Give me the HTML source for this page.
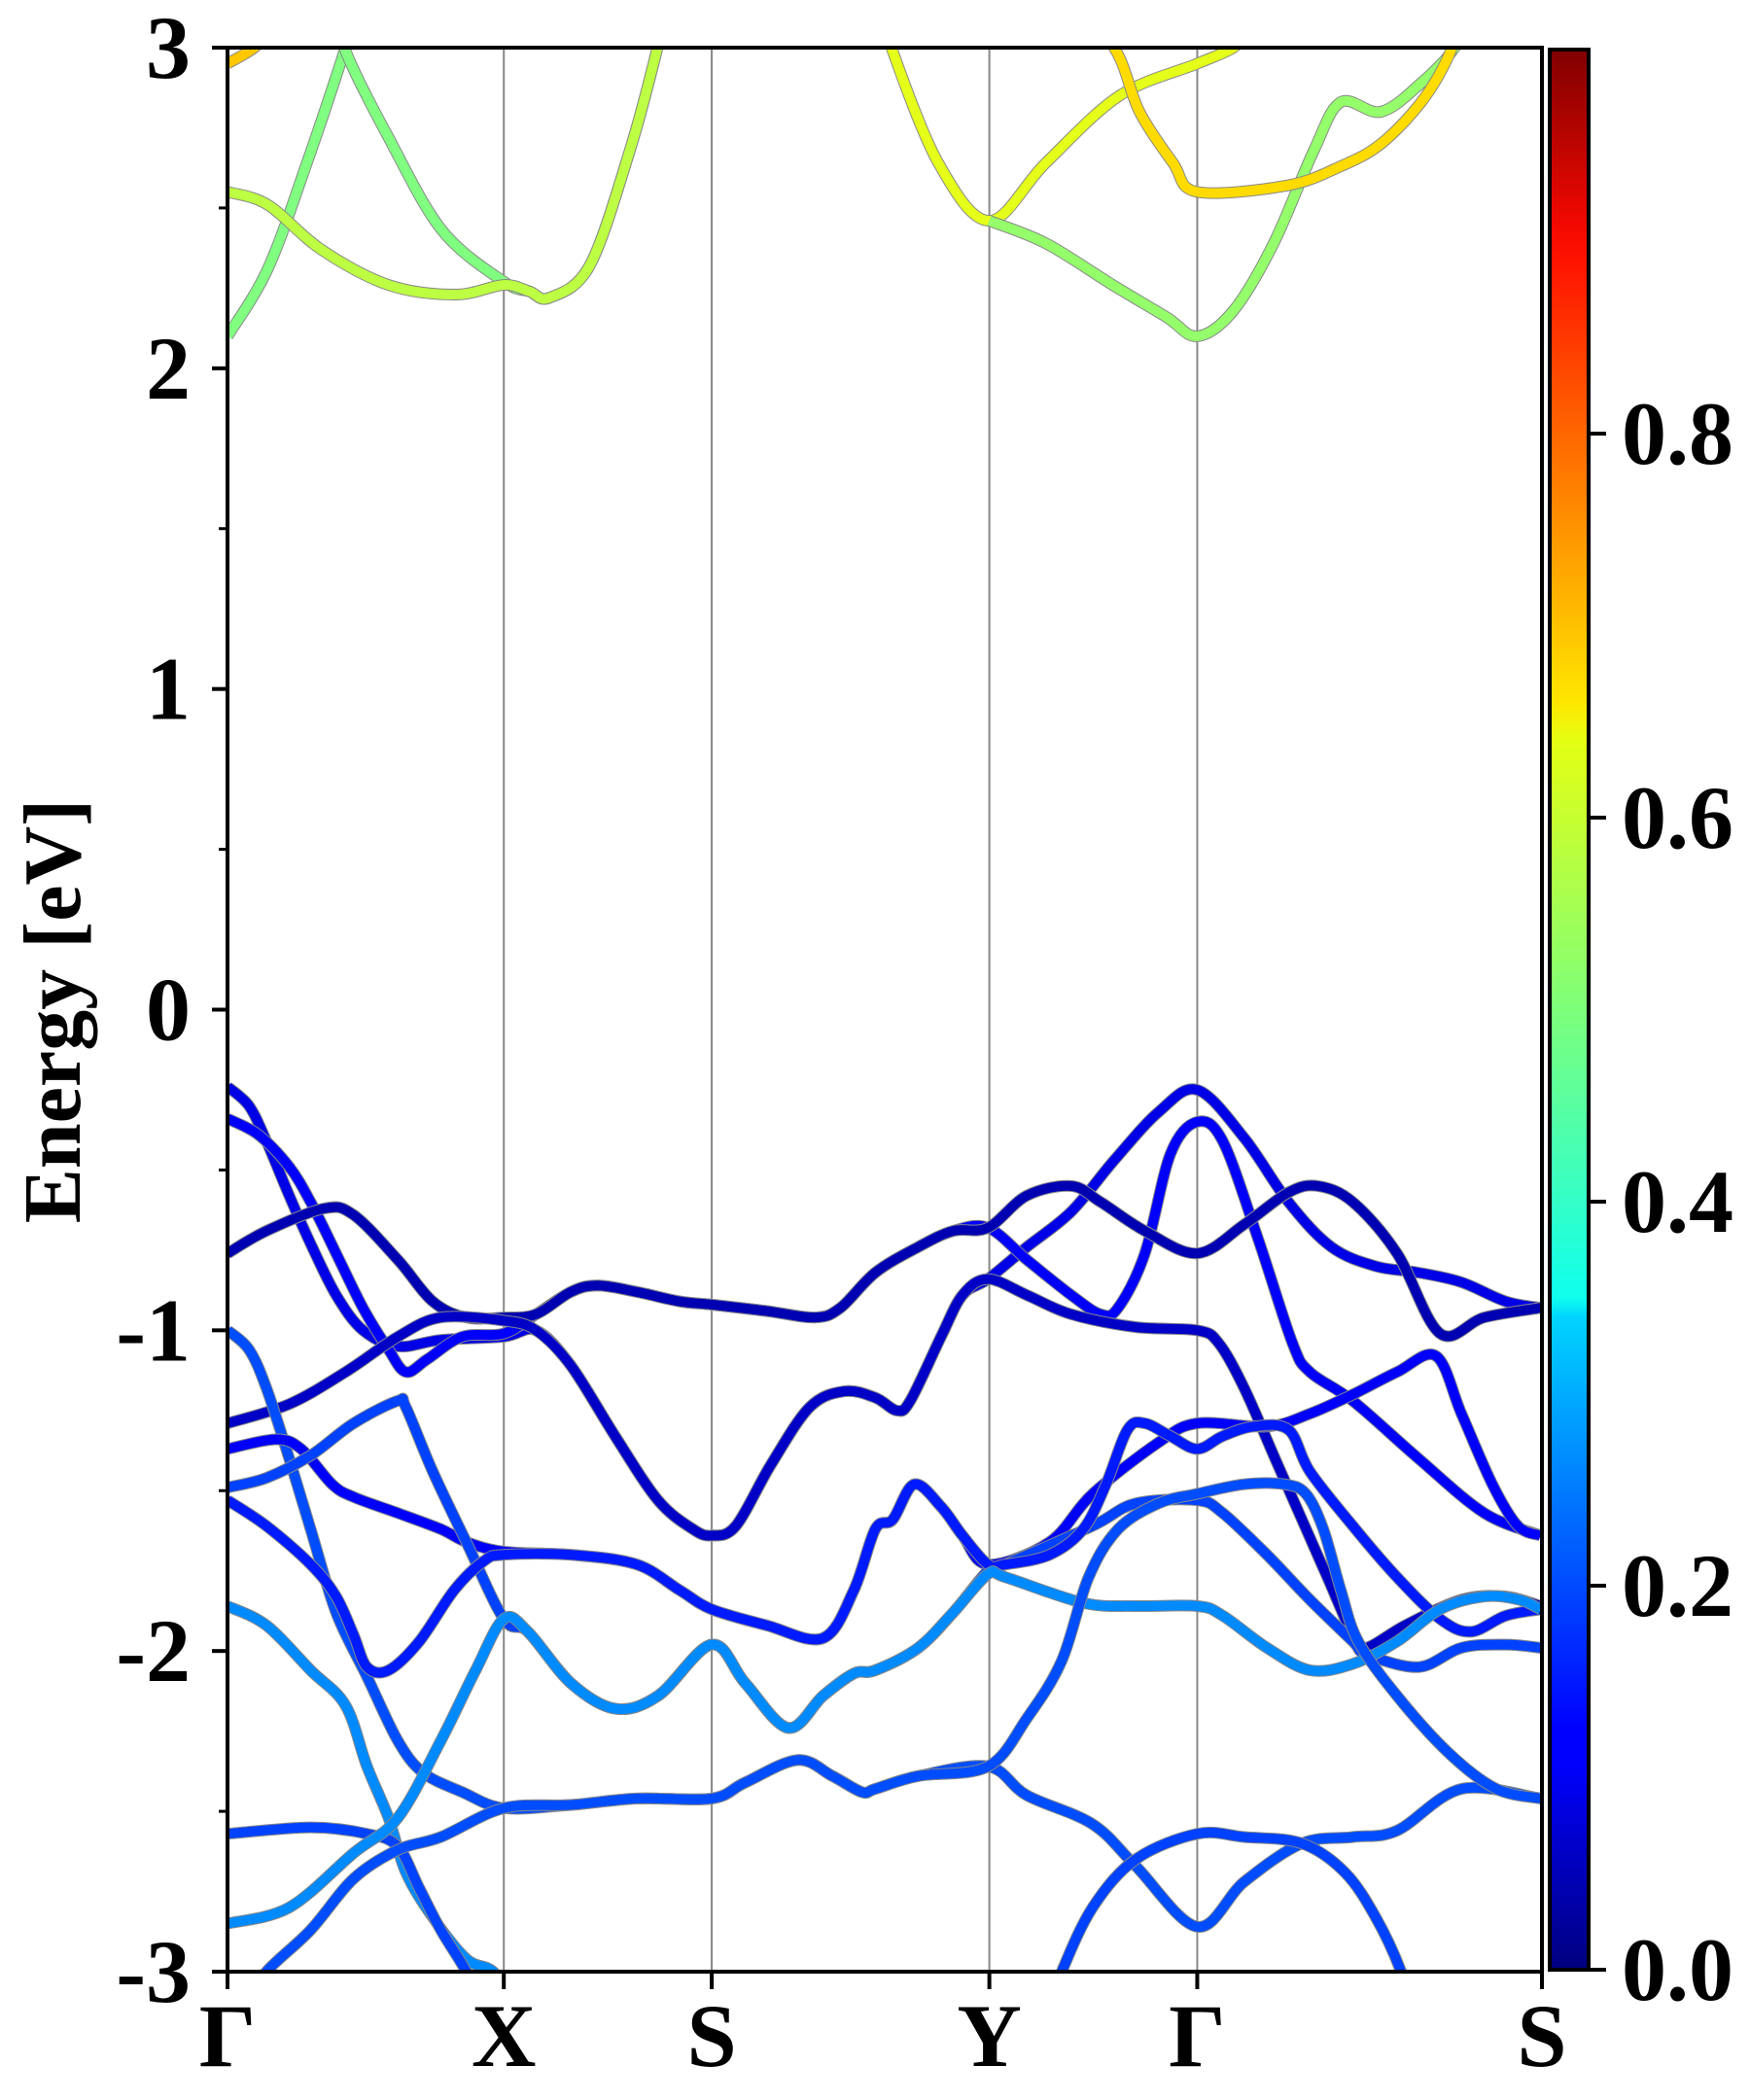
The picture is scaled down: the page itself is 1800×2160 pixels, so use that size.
<!DOCTYPE html>
<html><head><meta charset="utf-8">
<style>
html,body{margin:0;padding:0;background:#fff;}
svg{display:block;}
text{font-family:"Liberation Serif","Times New Roman",serif;font-weight:bold;fill:#000;}
</style></head>
<body>
<svg id="chart" width="1800" height="2160" viewBox="0 0 1800 2160" xmlns="http://www.w3.org/2000/svg">
<defs>
<clipPath id="plotclip"><rect x="234" y="49" width="1352" height="1979"/></clipPath>
<linearGradient id="jetgrad" x1="0" y1="1" x2="0" y2="0">
<stop offset="0" stop-color="#00007f"/><stop offset="0.11" stop-color="#0000ff"/>
<stop offset="0.125" stop-color="#0000ff"/><stop offset="0.34" stop-color="#00d4ff"/>
<stop offset="0.35" stop-color="#0fffee"/><stop offset="0.5" stop-color="#7dff7a"/>
<stop offset="0.64" stop-color="#e4ff13"/><stop offset="0.66" stop-color="#ffe600"/>
<stop offset="0.89" stop-color="#ff1300"/><stop offset="0.91" stop-color="#f10800"/>
<stop offset="1" stop-color="#7f0000"/>
</linearGradient>
</defs>
<g id="gridlines"></g>
<g id="bands" clip-path="url(#plotclip)"></g>
<g id="axes"></g>
<text transform="translate(82,1040) rotate(-90)" text-anchor="middle" font-size="84">Energy [eV]</text>
<rect x="1594" y="51" width="40" height="1975" fill="url(#jetgrad)" stroke="#000" stroke-width="4"/>
<g id="cbticks"></g>
</svg>
<script>
// ---- data ----
const kLabels = ["Γ","X","S","Y","Γ","S"];
const kTicks = [0, 206, 361, 568, 723, 980];
const yTicks = [-3, -2, -1, 0, 1, 2, 3];
const yMinor = [-2.5, -1.5, -0.5, 0.5, 1.5, 2.5];
const cbTicks = [0.0, 0.2, 0.4, 0.6, 0.8];
const cbLabels = ["0.0", "0.2", "0.4", "0.6", "0.8"];

const bandA_k = [0,16,29,46,62,81,101,127,159,206,230,256,289,321,347,361,379,405,434,460,483,499,509,532,548,567,596,629,661,694,723,758,791,823,856,888,920,953,979];
const bandA_E = [-0.24,-0.30,-0.41,-0.58,-0.73,-0.89,-1.00,-1.05,-1.03,-1.02,-1.00,-1.11,-1.33,-1.53,-1.62,-1.64,-1.61,-1.42,-1.24,-1.19,-1.21,-1.25,-1.22,-1.02,-0.89,-0.84,-0.74,-0.63,-0.47,-0.32,-0.25,-0.40,-0.60,-0.74,-0.80,-0.82,-0.85,-0.91,-0.93];
const bandB_k = [0,23,46,62,81,101,120,133,149,175,206,230,256,276,305,337,361,402,438,457,483,515,541,567,596,629,651,664,684,703,723,742,768,794,807,839,888,937,979];
const bandB_E = [-0.34,-0.39,-0.49,-0.60,-0.76,-0.93,-1.06,-1.13,-1.09,-1.02,-1.01,-0.95,-0.88,-0.86,-0.88,-0.91,-0.92,-0.94,-0.96,-0.93,-0.82,-0.74,-0.69,-0.68,-0.78,-0.89,-0.95,-0.93,-0.76,-0.45,-0.35,-0.41,-0.71,-1.04,-1.13,-1.22,-1.40,-1.57,-1.64];
const bandC_k = [0,29,72,94,127,153,178,206,230,256,276,305,337,361,402,438,457,483,515,541,567,596,629,651,684,723,758,791,813,839,872,904,937,979];
const bandC_E = [-0.76,-0.69,-0.62,-0.64,-0.78,-0.91,-0.96,-0.96,-0.95,-0.88,-0.86,-0.88,-0.91,-0.92,-0.94,-0.96,-0.93,-0.82,-0.74,-0.69,-0.68,-0.58,-0.55,-0.60,-0.69,-0.76,-0.67,-0.57,-0.55,-0.60,-0.76,-1.01,-0.96,-0.93];
const bandD_k = [0,46,88,127,159,206,230,256,289,321,347,361,379,405,434,460,483,499,509,532,548,567,596,629,677,723,739,758,781,801,820,839,849,878,920,953,979];
const bandD_E = [-1.29,-1.23,-1.13,-1.02,-0.96,-0.97,-1.00,-1.11,-1.33,-1.53,-1.62,-1.64,-1.61,-1.42,-1.24,-1.19,-1.21,-1.25,-1.22,-1.02,-0.89,-0.84,-0.89,-0.95,-0.99,-1.00,-1.04,-1.18,-1.40,-1.59,-1.77,-1.95,-1.99,-1.92,-1.84,-1.83,-1.86];
const bandF_k = [0,16,29,46,62,81,104,127,146,175,206,256,305,361,386,425,451,473,483,515,567,596,645,677,723,758,801,839,872,920,979];
const bandF_E = [-1.00,-1.06,-1.18,-1.40,-1.62,-1.88,-2.08,-2.28,-2.38,-2.44,-2.49,-2.48,-2.46,-2.46,-2.41,-2.34,-2.39,-2.44,-2.43,-2.39,-2.36,-2.45,-2.54,-2.67,-2.86,-2.72,-2.60,-2.58,-2.56,-2.43,-2.46];
const bandH_k = [0,36,55,78,94,127,159,178,206,256,305,337,361,402,444,467,483,496,512,532,548,567,613,645,694,723,775,807,839,872,901,920,943,962,979];
const bandH_E = [-1.37,-1.34,-1.37,-1.48,-1.52,-1.57,-1.62,-1.66,-1.69,-1.70,-1.73,-1.81,-1.87,-1.92,-1.96,-1.81,-1.62,-1.59,-1.48,-1.55,-1.64,-1.73,-1.66,-1.51,-1.35,-1.29,-1.30,-1.26,-1.20,-1.13,-1.08,-1.26,-1.48,-1.61,-1.64];
const bandI_k = [0,29,62,94,127,133,153,178,206,224,256,289,321,361,386,418,444,467,483,515,541,567,580,645,677,723,742,775,807,839,849,888,920,953,979];
const bandI_E = [-1.49,-1.46,-1.39,-1.29,-1.22,-1.24,-1.44,-1.66,-1.90,-1.94,-2.10,-2.18,-2.14,-1.98,-2.10,-2.24,-2.14,-2.07,-2.06,-1.99,-1.88,-1.75,-1.73,-1.61,-1.54,-1.53,-1.57,-1.70,-1.84,-1.97,-2.01,-2.05,-1.99,-1.98,-1.99];
const bandJ_k = [0,29,62,81,94,104,120,143,169,191,206,256,305,337,361,402,444,467,483,496,512,532,548,567,580,613,638,655,671,684,703,723,742,765,791,807,839,872,904,927,953,979];
const bandJ_E = [-1.53,-1.61,-1.73,-1.83,-1.95,-2.05,-2.06,-1.97,-1.81,-1.72,-1.70,-1.70,-1.73,-1.81,-1.87,-1.92,-1.96,-1.81,-1.62,-1.59,-1.48,-1.55,-1.64,-1.73,-1.73,-1.70,-1.62,-1.48,-1.31,-1.29,-1.33,-1.37,-1.33,-1.30,-1.31,-1.44,-1.61,-1.77,-1.90,-1.94,-1.89,-1.87];
const bandK_k = [0,29,62,88,104,120,133,153,178,198,215];
const bandK_E = [-1.86,-1.92,-2.06,-2.17,-2.36,-2.52,-2.69,-2.83,-2.96,-3.0,-3.1];
const bandL_k = [0,62,104,127,143,159,178,195];
const bandL_E = [-2.57,-2.55,-2.57,-2.61,-2.74,-2.87,-3.0,-3.15];
const bandM_k = [0,46,94,127,159,185,206,224,256,289,321,361,386,418,444,467,483,515,541,567,580,638,677,723,742,775,807,839,872,904,937,963,979];
const bandM_E = [-2.85,-2.80,-2.63,-2.52,-2.28,-2.06,-1.90,-1.94,-2.10,-2.18,-2.14,-1.98,-2.10,-2.24,-2.14,-2.07,-2.06,-1.99,-1.88,-1.76,-1.77,-1.85,-1.86,-1.86,-1.89,-1.99,-2.06,-2.04,-1.97,-1.87,-1.83,-1.84,-1.87];
const bandN_k = [15,29,62,94,127,159,206,256,305,361,386,425,451,473,483,515,567,596,622,642,664,694,723,758,788,804,817,830,843,872,911,946,979];
const bandN_E = [-3.1,-3.0,-2.87,-2.71,-2.62,-2.58,-2.49,-2.48,-2.46,-2.46,-2.41,-2.34,-2.39,-2.44,-2.43,-2.39,-2.36,-2.21,-2.03,-1.77,-1.62,-1.54,-1.51,-1.48,-1.48,-1.51,-1.62,-1.81,-1.97,-2.14,-2.32,-2.43,-2.46];
const bandP_k = [610,622,645,677,723,758,801,833,856,875,885];
const bandP_E = [-3.15,-3.0,-2.80,-2.65,-2.57,-2.58,-2.60,-2.69,-2.83,-3.0,-3.15];
const condA_k = [0,30,60,88,95];
const condA_E = [2.10,2.31,2.65,3.0,3.1];
const condB_k = [85,88,120,160,206,225,240,270,300,320,325];
const condB_E = [3.1,2.99,2.72,2.43,2.27,2.24,2.22,2.32,2.68,2.99,3.1];
const condC_k = [0,30,70,120,170,206,225,240,270,300,320,325];
const condC_E = [2.55,2.51,2.37,2.26,2.23,2.26,2.24,2.22,2.32,2.68,2.99,3.1];
const condD_k = [0,20,30];
const condD_E = [2.95,3.0,3.05];
const condE_k = [490,495,530,568,610,665,723,750,760];
const condE_E = [3.1,3.0,2.64,2.46,2.64,2.85,2.95,3.0,3.05];
const condF_k = [568,610,660,700,723,750,780,810,830,860,890,915,925];
const condF_E = [2.46,2.39,2.26,2.16,2.10,2.18,2.39,2.68,2.83,2.80,2.89,3.0,3.1];
const condG_k = [645,665,680,705,723,790,830,860,890,910,920];
const condG_E = [3.1,2.97,2.80,2.64,2.55,2.57,2.63,2.70,2.83,2.97,3.1];
const bandWeights = [0.10,0.12,0.05,0.07,0.20,0.12,0.19,0.15,0.26,0.19,0.26,0.20,0.19,0.50,0.50,0.56,0.68,0.60,0.52,0.66];

const bandList = [
 ["band-a",bandA_k,bandA_E],["band-b",bandB_k,bandB_E],["band-c",bandC_k,bandC_E],["band-d",bandD_k,bandD_E],
 ["band-f",bandF_k,bandF_E],["band-h",bandH_k,bandH_E],["band-i",bandI_k,bandI_E],["band-j",bandJ_k,bandJ_E],
 ["band-k",bandK_k,bandK_E],["band-l",bandL_k,bandL_E],["band-m",bandM_k,bandM_E],["band-n",bandN_k,bandN_E],
 ["band-p",bandP_k,bandP_E],["cond-band-a",condA_k,condA_E],["cond-band-b",condB_k,condB_E],["cond-band-c",condC_k,condC_E],
 ["cond-band-d",condD_k,condD_E],["cond-band-e",condE_k,condE_E],["cond-band-f",condF_k,condF_E],["cond-band-g",condG_k,condG_E]
];

const X0=234, X1=1586, Y0=49, Y1=2028, KMAX=980, EMIN=-3, EMAX=3;
const xs = k => X0 + k*(X1-X0)/KMAX;
const ys = e => Y1 - (e-EMIN)*(Y1-Y0)/(EMAX-EMIN);
const cbY = v => 2026 - v*(2026-51);
const NS="http://www.w3.org/2000/svg";
function mk(tag, attrs, parent){const el=document.createElementNS(NS,tag);for(const a in attrs)el.setAttribute(a,attrs[a]);parent.appendChild(el);return el;}

function jet(v){
  const c = x => Math.max(0,Math.min(1,x));
  const r=c(1.5-Math.abs(4*v-3)), g=c(1.5-Math.abs(4*v-2)), b=c(1.5-Math.abs(4*v-1));
  return `rgb(${Math.round(r*255)},${Math.round(g*255)},${Math.round(b*255)})`;
}
function smoothPath(px,py){
  let d=`M${px[0].toFixed(1)},${py[0].toFixed(1)}`;
  for(let i=0;i<px.length-1;i++){
    const p0=i>0?i-1:i, p3=i+2<px.length?i+2:i+1;
    const c1x=px[i]+(px[i+1]-px[p0])/6, c1y=py[i]+(py[i+1]-py[p0])/6;
    const c2x=px[i+1]-(px[p3]-px[i])/6, c2y=py[i+1]-(py[p3]-py[i])/6;
    d+=` C${c1x.toFixed(1)},${c1y.toFixed(1)} ${c2x.toFixed(1)},${c2y.toFixed(1)} ${px[i+1].toFixed(1)},${py[i+1].toFixed(1)}`;
  }
  return d;
}

const grid=document.getElementById('gridlines');
kTicks.forEach((k,i)=>{
  if(i>0 && i<kTicks.length-1){
    const l=mk('line',{x1:xs(k),x2:xs(k),y1:Y0,y2:Y1,stroke:'#888',"stroke-width":2},grid);
    
    
  }
});

const bg=document.getElementById('bands');
bandList.forEach((b,i)=>{
  const px=b[1].map(xs), py=b[2].map(ys);
  const d=smoothPath(px,py);
  const g=mk('g',{},bg);
  
  
  mk('path',{d:d,fill:'none',stroke:'#888',"stroke-width":12,"stroke-linejoin":'round'},g);
  mk('path',{d:d,fill:'none',stroke:jet(bandWeights[i]),"stroke-width":10,"stroke-linejoin":'round'},g);
});

const ax=document.getElementById('axes');
const frame=mk('rect',{x:X0,y:Y0,width:X1-X0,height:Y1-Y0,fill:'none',stroke:'#000',"stroke-width":4},ax);


yTicks.forEach(v=>{
  const t=mk('line',{x1:X0-16,x2:X0,y1:ys(v),y2:ys(v),stroke:'#000',"stroke-width":4},ax);
  
  
  const tx=mk('text',{x:196,y:ys(v)+31,"text-anchor":'end',"font-size":92},ax);
  tx.textContent=String(v);
  
  
});
yMinor.forEach(v=>{
  const t=mk('line',{x1:X0-9,x2:X0,y1:ys(v),y2:ys(v),stroke:'#000',"stroke-width":3},ax);
  
  
});
kTicks.forEach((k,i)=>{
  const t=mk('line',{x1:xs(k),x2:xs(k),y1:Y1,y2:Y1+18,stroke:'#000',"stroke-width":4},ax);
  
  
  const tx=mk('text',{x:xs(k),y:2125,"text-anchor":'middle',"font-size":92},ax);
  tx.textContent=kLabels[i];
  
  
});
const cb=document.getElementById('cbticks');
cbTicks.forEach((v,i)=>{
  const t=mk('line',{x1:1636,x2:1652,y1:cbY(v),y2:cbY(v),stroke:'#000',"stroke-width":4},cb);
  
  
  const tx=mk('text',{x:1668,y:cbY(v)+31,"text-anchor":'start',"font-size":92},cb);
  tx.textContent=cbLabels[i];
  
  
});
</script>
</body></html>
